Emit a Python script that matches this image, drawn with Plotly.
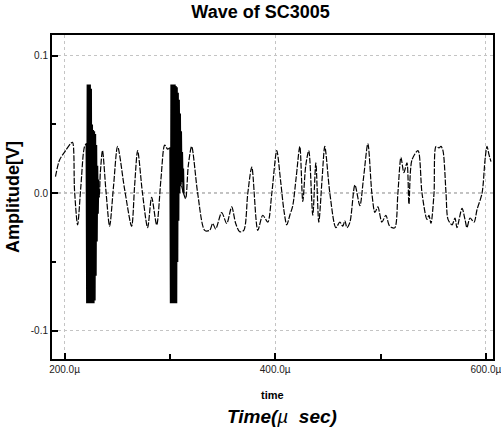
import plotly.graph_objects as go

# ---- data ----
wave_t = [191.4, 195.2, 201.0, 205.7, 207.6, 209.5, 212.4, 215.5, 219.0, 221.0,
          232.5, 234.0, 236.0, 239.5, 242.8, 246.5, 250.4, 257.0, 263.7, 266.5,
          269.4, 274.0, 278.9, 282.7, 287.5, 291.5, 295.1, 297.9, 300.5,
          313.0, 315.0, 317.5, 320.7, 326.4, 333.1, 337.8, 340.7, 343.5, 349.2,
          354.0, 358.7, 362.5, 366.3, 370.2, 374.0, 377.8, 383.5, 388.2, 393.0,
          396.8, 401.5, 405.0, 408.2, 411.0, 413.9, 416.7, 420.0, 423.4, 426.2,
          429.0, 431.9, 435.7, 438.6, 441.4, 444.5, 447.1, 451.9, 457.6, 461.4,
          464.2, 466.2, 468.1, 471.0, 475.7, 480.4, 484.0, 488.0, 491.8, 494.7,
          497.5, 501.3, 505.1, 508.0, 510.8, 513.7, 516.5, 519.4, 522.2, 525.1,
          527.0, 529.8, 535.6, 539.4, 544.1, 546.0, 547.9, 550.8, 552.7, 555.5,
          557.4, 559.3, 562.2, 564.1, 567.9, 570.7, 572.6, 577.4, 580.2, 582.1,
          585.0, 588.8, 591.6, 596.4, 599.2, 601.1, 603.0, 604.9]
wave_v = [0.012, 0.024, 0.031, 0.036, 0.037, 0.002, -0.023, 0.005, 0.034, 0.036,
          -0.003, 0.015, 0.031, 0.000, -0.024, 0.005, 0.034, 0.003, -0.024, 0.005,
          0.031, 0.000, -0.025, -0.003, -0.023, 0.010, 0.035, 0.032, 0.033,
          0.000, -0.004, 0.020, 0.034, 0.000, -0.027, -0.027, -0.022, -0.026, -0.014,
          -0.022, -0.010, -0.022, -0.028, -0.027, 0.000, 0.019, -0.027, -0.016, -0.021,
          0.000, 0.031, 0.010, -0.012, -0.023, -0.016, -0.009, 0.012, 0.034, -0.006,
          0.020, 0.031, -0.016, 0.022, -0.021, 0.010, 0.034, 0.000, -0.025, -0.021,
          -0.024, -0.020, -0.025, -0.021, 0.006, -0.009, 0.012, 0.036, 0.000, -0.014,
          -0.010, -0.021, -0.016, -0.023, -0.025, -0.025, 0.000, 0.026, 0.015, 0.022,
          -0.008, 0.024, 0.031, 0.000, -0.019, -0.016, -0.022, 0.000, 0.034, 0.033,
          0.034, 0.031, 0.000, -0.019, -0.023, -0.018, -0.025, -0.011, -0.019, -0.025,
          -0.018, -0.021, -0.012, 0.000, 0.024, 0.034, 0.028, 0.023]

burst1_t = [221.0, 221.5, 222.0, 222.5, 223.0, 223.5, 224.0, 224.5, 225.0, 225.5,
            226.0, 226.5, 227.0, 227.5, 228.0, 228.5, 229.0, 229.5, 230.0, 230.5,
            231.0, 231.5, 232.0, 232.5]
burst1_v = [0.036, -0.080, 0.079, -0.080, 0.079, -0.080, 0.079, -0.080, 0.076, -0.080,
            0.050, -0.080, 0.046, -0.080, 0.045, -0.078, 0.043, -0.060, 0.035, -0.035,
            0.020, -0.015, 0.010, -0.003]

burst2_t = [300.5, 301.0, 301.5, 302.0, 302.5, 303.0, 303.5, 304.0, 304.5, 305.0,
            305.5, 306.0, 306.5, 307.0, 307.5, 308.0, 308.5, 309.0, 309.5, 310.0,
            310.5, 311.0, 311.5, 312.0, 312.5, 313.0]
burst2_v = [0.033, -0.080, 0.079, -0.080, 0.079, -0.080, 0.079, -0.080, 0.079, -0.080,
            0.078, -0.080, 0.077, -0.050, 0.073, -0.020, 0.068, 0.000, 0.058, 0.005,
            0.045, 0.008, 0.030, 0.010, 0.018, 0.000]

x_tick_vals = [200, 400, 600]
x_tick_labels = ["200.0\u00b5", "400.0\u00b5", "600.0\u00b5"]
x_minor_vals = [300, 500]
y_tick_vals = [-0.1, 0.0, 0.1]
y_tick_labels = ["-0.1", "0.0", "0.1"]

title_text = "Wave of SC3005"
y_title = "Amplitude[V]"
x_title_small = "time"

fig = go.Figure()
fig.add_trace(go.Scatter(x=wave_t, y=wave_v, mode="lines",
                         line=dict(color="black", width=1.2, shape="spline", smoothing=0.8,
                                   dash="6px,1.5px"),
                         showlegend=False, hoverinfo="skip"))
fig.add_trace(go.Scatter(x=burst1_t, y=burst1_v, mode="lines", line=dict(color="black", width=2.2),
                         showlegend=False, hoverinfo="skip"))
fig.add_trace(go.Scatter(x=burst2_t, y=burst2_v, mode="lines", line=dict(color="black", width=2.2),
                         showlegend=False, hoverinfo="skip"))

# zero reference line
fig.add_shape(type="line", xref="paper", x0=0, x1=1, yref="y", y0=0, y1=0,
              line=dict(color="#222", width=1, dash="dot"), layer="below")

fig.update_layout(
    width=501, height=430,
    margin=dict(l=52, r=8, t=35, b=71),
    paper_bgcolor="white", plot_bgcolor="white",
    font=dict(family="Liberation Sans, Arial, sans-serif", color="black"),
    title=dict(text="<b>" + title_text + "</b>", x=0.52, xanchor="center",
               y=0.972, yanchor="middle", font=dict(size=18, color="black")),
    xaxis=dict(range=[188.1, 606.8], tickmode="array", tickvals=x_tick_vals,
               ticktext=x_tick_labels, ticks="inside", ticklen=6, tickwidth=1.5,
               tickcolor="black", showline=True, linecolor="black", linewidth=2,
               mirror=True, showgrid=True, gridcolor="#c4c4c4", griddash="dot",
               gridwidth=1, zeroline=False, automargin=False,
               ticklabeloverflow="allow",
               tickfont=dict(size=10, color="#222"),
               minor=dict(tickvals=x_minor_vals, ticks="inside", ticklen=5,
                          tickcolor="black", showgrid=False)),
    yaxis=dict(range=[-0.1205, 0.115], tickmode="array", tickvals=y_tick_vals,
               ticktext=y_tick_labels, ticks="inside", ticklen=6, tickwidth=1.5,
               tickcolor="black", showline=True, linecolor="black", linewidth=2,
               mirror=True, showgrid=True, gridcolor="#c4c4c4", griddash="dot",
               gridwidth=1, zeroline=False, automargin=False,
               ticklabeloverflow="allow",
               tickfont=dict(size=10, color="#222"),
               minor=dict(tickvals=[-0.05, 0.05], ticks="inside", ticklen=4,
                          tickcolor="black", showgrid=False),
               title=dict(text="<b>" + y_title + "</b>", font=dict(size=18), standoff=6)),
    annotations=[
        dict(text="<b>" + x_title_small + "</b>", xref="paper", yref="paper",
             x=0.5, y=-0.111, xanchor="center", yanchor="middle", showarrow=False,
             font=dict(size=11, color="black")),
        dict(text="<b><i>Time(</i></b><i>\u00b5</i>&nbsp;&nbsp;<b><i>sec)</i></b>",
             xref="paper", yref="paper",
             x=0.522, y=-0.176, xanchor="center", yanchor="middle", showarrow=False,
             font=dict(size=19, color="black")),
    ],
)

fig.write_html("out.html")
